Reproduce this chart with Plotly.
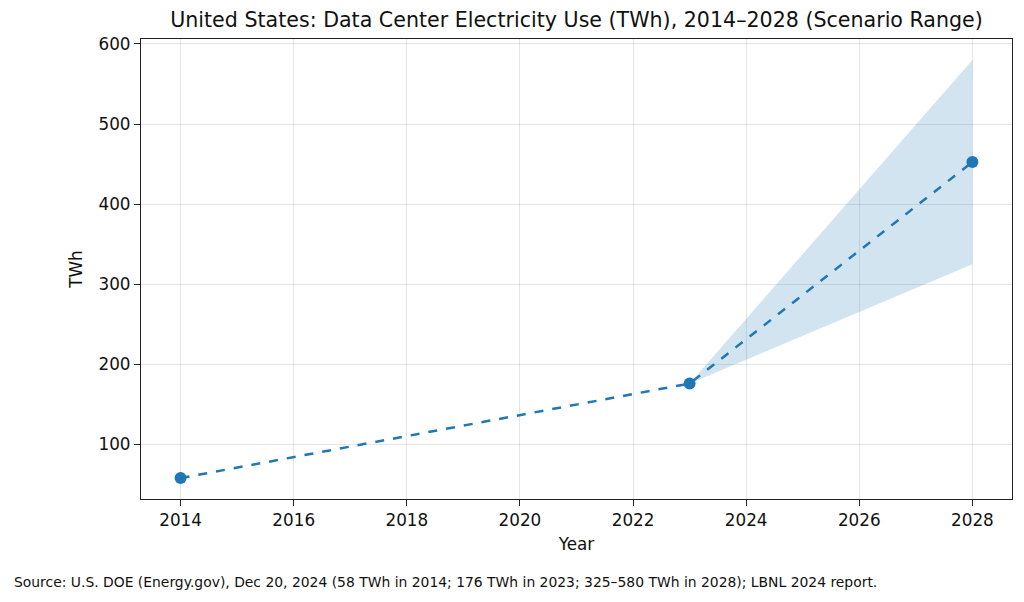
import plotly.graph_objects as go

years = [2014, 2023, 2028]
central = [58, 176, 452.5]
band_years = [2023, 2028]
band_low = [176, 325]
band_high = [176, 580]

title = "United States: Data Center Electricity Use (TWh), 2014–2028 (Scenario Range)"
source = ("Source: U.S. DOE (Energy.gov), Dec 20, 2024 (58 TWh in 2014; 176 TWh in 2023; "
          "325–580 TWh in 2028); LBNL 2024 report.")
x_ticks = [2014, 2016, 2018, 2020, 2022, 2024, 2026, 2028]
y_ticks = [100, 200, 300, 400, 500, 600]

blue = "#1f77b4"
font = "DejaVu Sans"

fig = go.Figure()
fig.add_trace(go.Scatter(x=band_years, y=band_low, mode="lines", line=dict(width=0),
                         showlegend=False, hoverinfo="skip"))
fig.add_trace(go.Scatter(x=band_years, y=band_high, mode="lines", line=dict(width=0),
                         fill="tonexty", fillcolor="rgba(31,119,180,0.2)",
                         showlegend=False, hoverinfo="skip"))
fig.add_trace(go.Scatter(x=years, y=central, mode="lines+markers",
                         line=dict(color=blue, width=2.5, dash="dash"),
                         marker=dict(color=blue, size=12),
                         showlegend=False))

axis_common = dict(showline=True, linecolor="#222", linewidth=1.3, mirror=True,
                   ticks="outside", ticklen=6, tickwidth=1.3, tickcolor="#222",
                   showgrid=True, gridcolor="rgba(0,0,0,0.1)", gridwidth=1,
                   zeroline=False,
                   tickfont=dict(family=font, size=16.8, color="#111"))

fig.update_layout(
    width=1024, height=602,
    margin=dict(l=141, r=12, t=39, b=103),
    paper_bgcolor="white", plot_bgcolor="white",
    font=dict(family=font, color="#111"),
    title=dict(text=title, x=0.563, xanchor="center", y=1 - 20 / 602, yanchor="middle",
               yref="container", font=dict(family=font, size=20.6, color="#111")),
    xaxis=dict(range=[2013.3, 2028.7], tickvals=x_ticks,
               title=dict(text="Year", font=dict(family=font, size=16.8), standoff=8),
               **axis_common),
    yaxis=dict(range=[31.9, 606.1], tickvals=y_ticks,
               title=dict(text="TWh", font=dict(family=font, size=16.8), standoff=11),
               **axis_common),
    annotations=[dict(text=source, xref="paper", yref="paper", x=0, xanchor="left",
                      xshift=-129, y=0, yshift=-(582 - 499), yanchor="middle",
                      showarrow=False, font=dict(family=font, size=13.9, color="#111"))],
)

fig.write_html("out.html")
